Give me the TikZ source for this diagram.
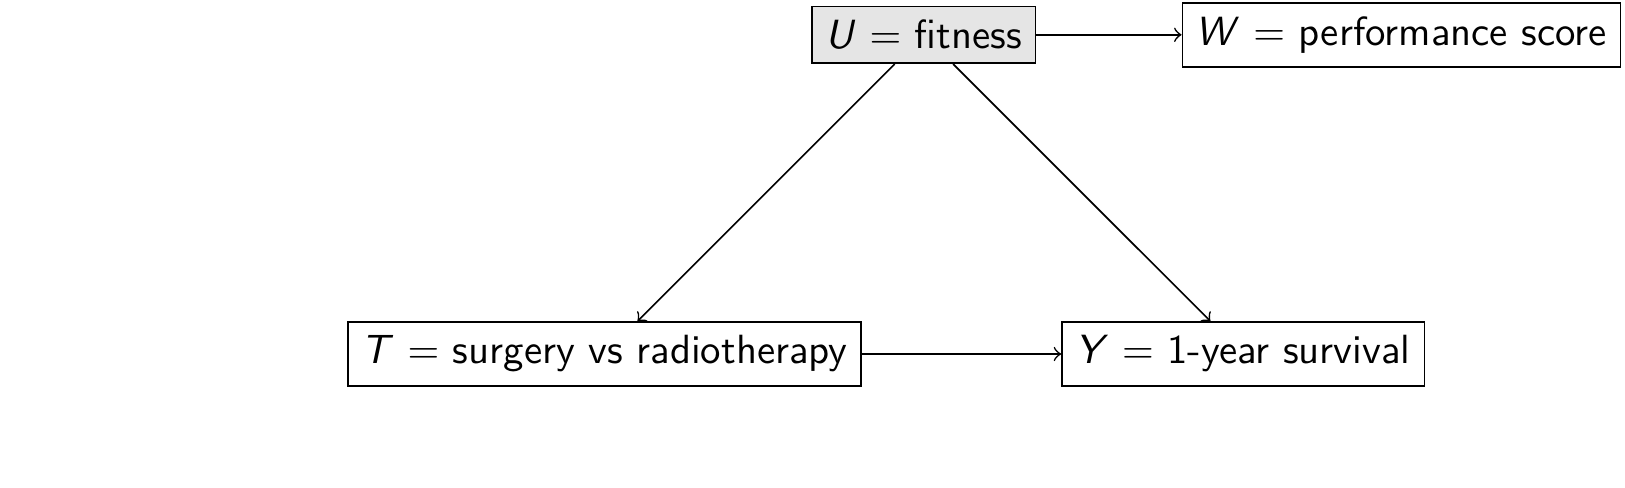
\documentclass[tikz,border=0pt]{standalone}
\usepackage{amsmath}
\usepackage{tikz}
\usetikzlibrary{positioning}
\renewcommand{\familydefault}{\sfdefault}

\begin{document}
\begin{tikzpicture}[
    var/.style={rectangle, draw, fill=white, font=\normalsize},
    latent/.style={var, fill=gray!20},
    arrow/.style={->}
]

% Canvas
\useasboundingbox (0, 0) rectangle (14, -4.2);

% Variables
\node[latent] (u) at (7.96, -0.30) {\textit{U} $=$ fitness};
\node[var] (t) at (5.21, -3.05) {\textit{T} $=$ surgery vs radiotherapy};
\node[var] (y) at (10.71, -3.05) {\textit{Y} $=$ 1-year survival};
\node[var, right=1.25cm of u] (w) {\textit{W} $=$ performance score};

% Arrows
\draw[arrow] (u) -- (w);
\draw[arrow] (u) -- (t);
\draw[arrow] (u) -- (y);
\draw[arrow] (t) -- (y);

\end{tikzpicture}
\end{document}
